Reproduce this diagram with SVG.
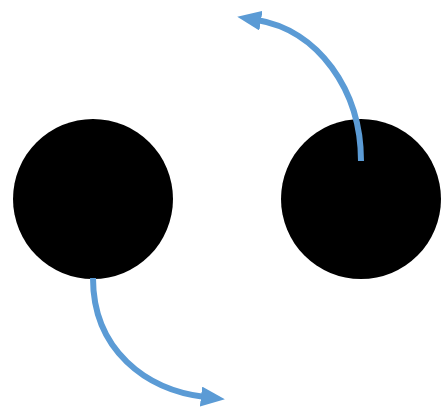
<svg xmlns="http://www.w3.org/2000/svg" width="443" height="412" viewBox="0 0 443 412">
<defs>
<style>
.node{fill:#000}
.conn{fill:none;stroke:#5B9BD5;stroke-width:6}
</style>
<marker id="ah" markerUnits="userSpaceOnUse" markerWidth="24" markerHeight="20" refX="4" refY="10" orient="auto" viewBox="0 0 24 20">
<path d="M0,0 L24,10 L0,20 Z" fill="#5B9BD5"/>
</marker>
</defs>
<g id="node-left"><circle class="node" cx="93" cy="199" r="80"/></g>
<g id="node-right"><circle class="node" cx="361" cy="199" r="80"/></g>
<g id="connectors">
<path class="conn" d="M361,161 C361,90 318,30 257,20" marker-end="url(#ah)"/>
<path class="conn" d="M93,278 C93,350 146,390 205,397" marker-end="url(#ah)"/>
</g>
</svg>
